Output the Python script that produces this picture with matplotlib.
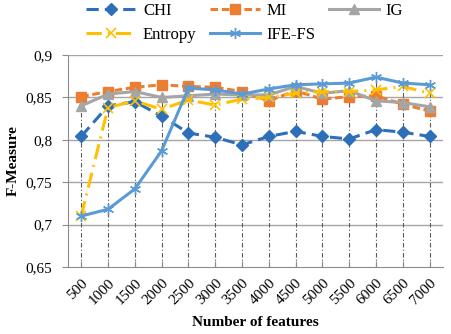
import matplotlib
matplotlib.use("Agg")
import matplotlib.pyplot as plt

plt.rcParams['font.family'] = ['Liberation Serif', 'DejaVu Serif']

features = ["500", "1000", "1500", "2000", "2500", "3000", "3500",
            "4000", "4500", "5000", "5500", "6000", "6500", "7000"]

chi = [0.804, 0.840, 0.845, 0.828, 0.808, 0.803, 0.794,
       0.804, 0.810, 0.804, 0.801, 0.812, 0.809, 0.804]
mi = [0.851, 0.857, 0.862, 0.865, 0.863, 0.862, 0.857,
      0.846, 0.858, 0.848, 0.851, 0.852, 0.842, 0.834]
ig = [0.840, 0.854, 0.857, 0.850, 0.852, 0.854, 0.853,
      0.853, 0.863, 0.855, 0.858, 0.846, 0.844, 0.839]
entropy = [0.710, 0.838, 0.846, 0.836, 0.847, 0.841, 0.848,
           0.850, 0.855, 0.857, 0.857, 0.859, 0.863, 0.855]
ife_fs = [0.710, 0.718, 0.742, 0.787, 0.861, 0.859, 0.854,
          0.860, 0.865, 0.866, 0.867, 0.874, 0.867, 0.865]

yticks = [0.65, 0.7, 0.75, 0.8, 0.85, 0.9]
ytick_labels = ["0,65", "0,7", "0,75", "0,8", "0,85", "0,9"]

x = list(range(len(features)))

fig = plt.figure(figsize=(4.52, 3.34), dpi=100)
ax = fig.add_axes([0.15, 0.201, 0.83, 0.634])

# grid lines
for y in yticks[1:]:
    ax.axhline(y, color="#a6a6a6", lw=1.0, zorder=0)

# drop lines from the top value down to the axis
tops = [max(v) for v in zip(chi, mi, ig, entropy, ife_fs)]
ax.vlines(x, 0.65, tops, colors="#595959", linestyles=(0, (4, 2, 1, 2)), lw=0.8, zorder=1)

h_chi, = ax.plot(x, chi, color="#2e6fba", lw=2.2, ls=(0, (4, 2)),
                 marker="D", ms=6, label="CHI", zorder=3)
h_mi, = ax.plot(x, mi, color="#ed7d31", lw=2.2, ls=(0, (2.5, 1.2)),
                marker="s", ms=7, label="MI", zorder=3)
h_ig, = ax.plot(x, ig, color="#a5a5a5", lw=2.2, ls="-",
                marker="^", ms=7, label="IG", zorder=3)
h_ent, = ax.plot(x, entropy, color="#ffc000", lw=2.2, ls=(0, (5, 2, 0.6, 2)),
                 marker="x", ms=7, mew=1.2, label="Entropy", zorder=3)
h_ife, = ax.plot(x, ife_fs, color="#5b9bd5", lw=2.2, ls="-",
                 marker=(6, 2, 0), ms=8, mew=1.0, label="IFE-FS", zorder=4)

ax.set_xlim(-0.5, 13.5)
ax.set_ylim(0.65, 0.9)
ax.set_yticks(yticks)
ax.set_yticklabels(ytick_labels, fontsize=11)
ax.set_xticks(x)
ax.set_xticklabels(features, rotation=45, ha="right", va="top",
                   rotation_mode="anchor", fontsize=11)

for s in ["top", "right"]:
    ax.spines[s].set_visible(False)
for s in ["left", "bottom"]:
    ax.spines[s].set_color("#8c8c8c")
ax.tick_params(axis="y", length=4, color="#8c8c8c", pad=7)
ax.tick_params(axis="x", length=4, color="#8c8c8c", direction="in", pad=7)

ax.set_xlabel("Number of features", fontsize=11, fontweight="bold", labelpad=6)
ax.set_ylabel("F-Measure", fontsize=11, fontweight="bold", labelpad=4)

fig.legend([h_chi, h_ent, h_mi, h_ife, h_ig],
           ["CHI", "Entropy", "MI", "IFE-FS", "IG"],
           ncol=3, loc="upper left", bbox_to_anchor=(0.165, 1.025),
           frameon=False, fontsize=12, handlelength=3.0,
           columnspacing=0.8, labelspacing=0.45, handletextpad=0.4,
           borderaxespad=0.3)

fig.savefig("out.png", dpi=100)
